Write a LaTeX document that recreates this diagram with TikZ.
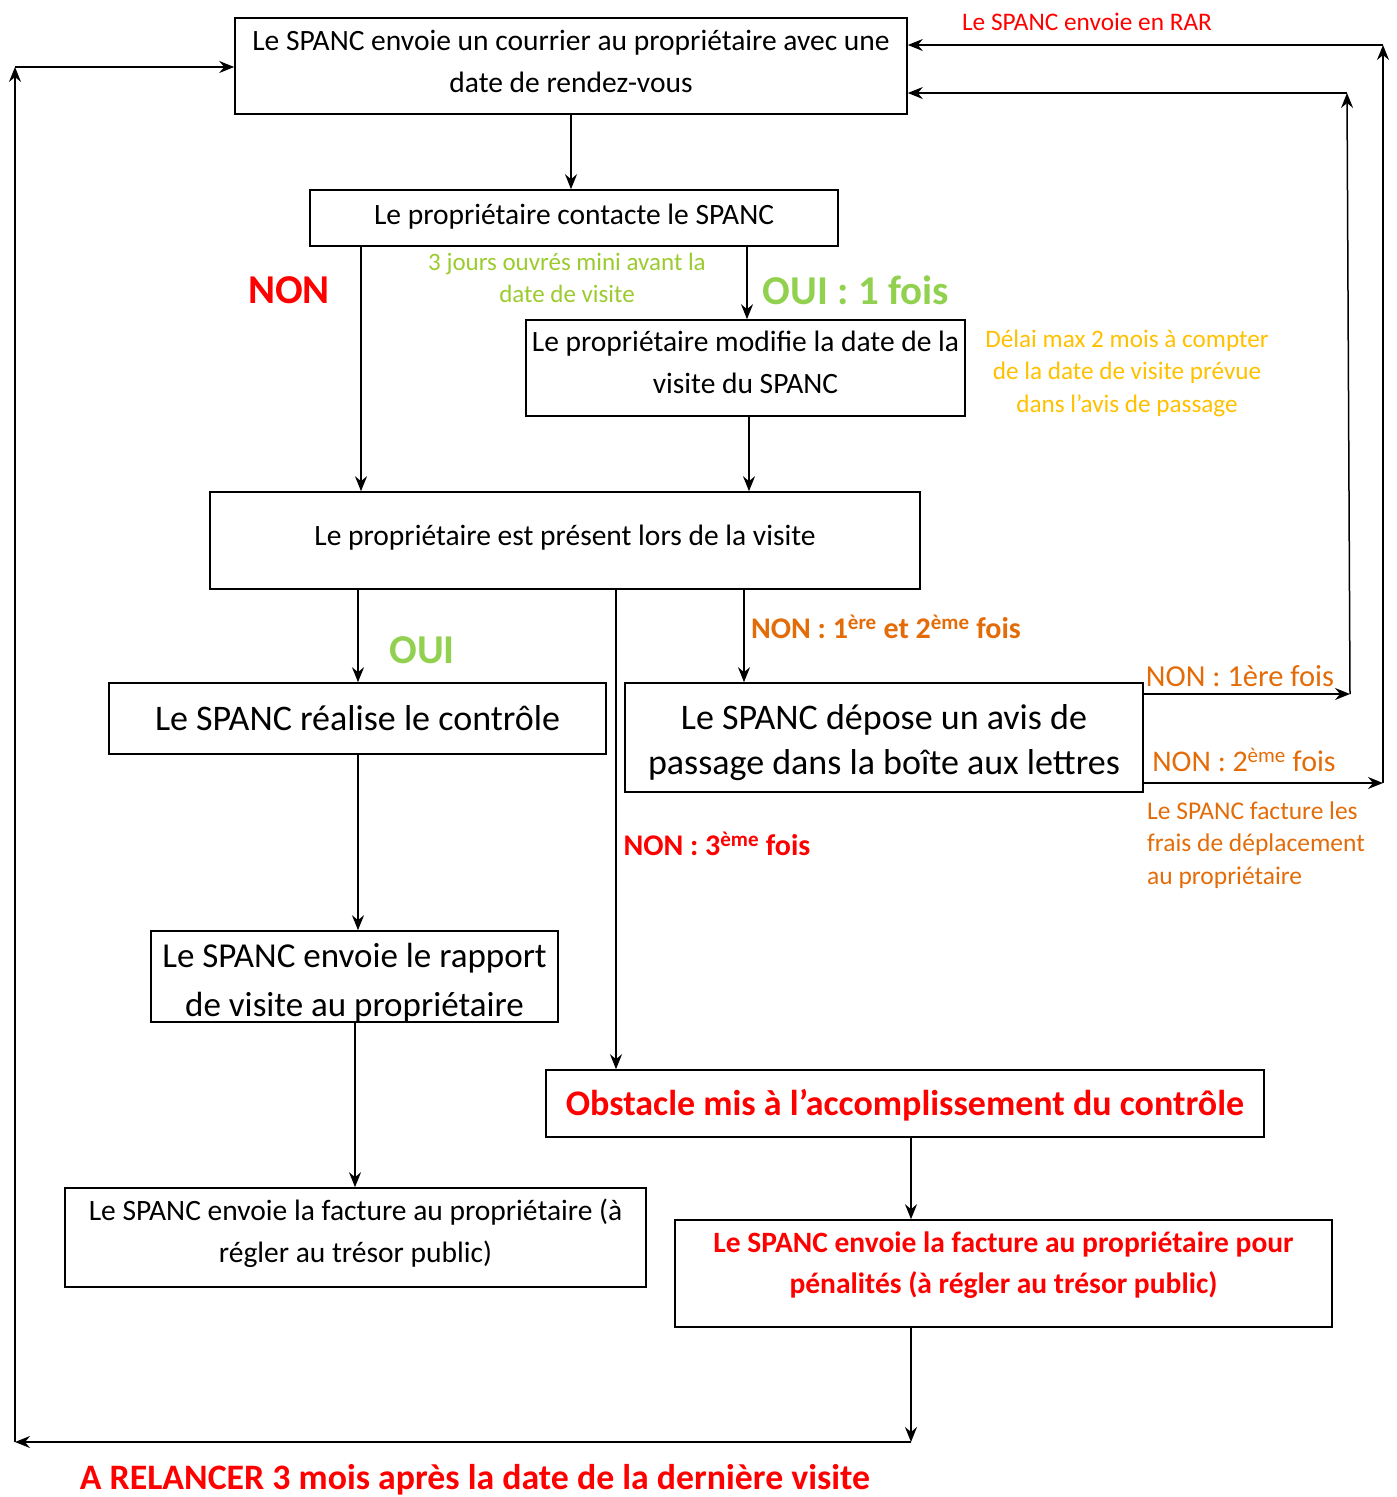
\documentclass[tikz,border=0pt]{standalone}
\usepackage{fontspec}
\setmainfont{Carlito}
\usetikzlibrary{arrows.meta}
\definecolor{cred}{HTML}{FF0000}
\definecolor{cgreen}{HTML}{92D050}
\definecolor{cgreenb}{HTML}{9BCB2F}
\definecolor{corange}{HTML}{E36C09}
\definecolor{cgold}{HTML}{FFC000}
% [#1]: trim of the text box, #2: downward shift of the text inside its box, #3: lines
\newcommand\boxtxt[3][0pt]{\raisebox{0pt}[\dimexpr\height+#2-#1\relax][\dimexpr\depth-#2-#1\relax]{\begin{tabular}{@{}c@{}}#3\end{tabular}}}
\begin{document}
\begin{tikzpicture}[x=1pt,y=-1pt,
  box/.style={draw, line width=1.6pt, align=center, inner sep=0pt},
  fsn/.style={font=\fontsize{29.5}{42}\selectfont},
  fsb/.style={font=\fontsize{36}{45}\selectfont},
  arr/.style={-{Stealth[length=15pt,width=12pt,inset=5pt]}, line width=1.5pt},
  lbl/.style={inner sep=0pt, align=center}]
\useasboundingbox (0,0) rectangle (1397,1497);
% boxes
\node[box,fsn,minimum width=672pt,minimum height=96pt] (n1) at (571,66) {\boxtxt{-3pt}{Le SPANC envoie un courrier au propriétaire avec une\\date de rendez-vous}};
\node[box,fsn,minimum width=528pt,minimum height=56pt] (n2) at (574,218) {\boxtxt{-2pt}{Le propriétaire contacte le SPANC}};
\node[box,fsn,minimum width=439pt,minimum height=96pt] (n3) at (745.5,368) {\boxtxt{-4pt}{Le propriétaire modifie la date de la\\visite du SPANC}};
\node[box,fsn,minimum width=710pt,minimum height=97pt] (n4) at (565,540.5) {\boxtxt{-3pt}{Le propriétaire est présent lors de la visite}};
\node[box,fsb,minimum width=497pt,minimum height=71pt] (n5) at (357.5,718.5) {\boxtxt{3pt}{Le SPANC réalise le contrôle}};
\node[box,fsb,minimum width=518pt,minimum height=109pt] (n6) at (884,737.5) {\boxtxt{5pt}{Le SPANC dépose un avis de\\passage dans la boîte aux lettres}};
\node[box,font=\fontsize{35}{49}\selectfont,minimum width=407pt,minimum height=91pt] (n7) at (354.5,976.5) {\boxtxt[6pt]{6pt}{Le SPANC envoie le rapport\\de visite au propriétaire}};
\node[box,font=\fontsize{36}{46}\selectfont\bfseries,text=cred,minimum width=718pt,minimum height=67pt] (n8) at (905,1103.5) {\boxtxt{3pt}{Obstacle mis à l’accomplissement du contrôle}};
\node[box,fsn,minimum width=581pt,minimum height=99pt] (n9) at (355.5,1237.5) {\boxtxt{-4pt}{Le SPANC envoie la facture au propriétaire (à\\régler au trésor public)}};
\node[box,font=\fontsize{29.5}{41}\selectfont\bfseries,text=cred,minimum width=657pt,minimum height=107pt] (n10) at (1003.5,1273.5) {\boxtxt{-9pt}{Le SPANC envoie la facture au propriétaire pour\\pénalités (à régler au trésor public)}};
% helper coordinates
\coordinate (c1) at (361,0);
\coordinate (c2) at (747,0);
\coordinate (c2b) at (749,0);
\coordinate (c3) at (358,0);
\coordinate (c4) at (616,0);
\coordinate (c5) at (744,0);
\coordinate (c6) at (355,0);
\coordinate (c7) at (911,0);
% connectors
\draw[arr] (n1.south) -- (n1.south |- n2.north);
\draw[arr] (n2.south -| c1) -- (n4.north -| c1);
\draw[arr] (n2.south -| c2) -- (n3.north -| c2);
\draw[arr] (n3.south -| c2b) -- (n4.north -| c2b);
\draw[arr] (n4.south -| c3) -- (n5.north -| c3);
\draw[arr] (n4.south -| c4) -- (n8.north -| c4);
\draw[arr] (n4.south -| c5) -- (n6.north -| c5);
\draw[arr] (n5.south -| c3) -- (n7.north -| c3);
\draw[arr] (n7.south -| c6) -- (n9.north -| c6);
\draw[arr] (n8.south -| c7) -- (n10.north -| c7);
% bottom loop
\coordinate (r1) at (911,1442);
\coordinate (r2) at (15,1442);
\coordinate (r3) at (15,67);
\draw[arr] (n10.south -| r1) -- (r1);
\draw[arr] (r1) -- (r2);
\draw[arr] (r2) -- (r3);
\draw[arr] (r3) -- (n1.west |- r3);
% right loops
\coordinate (s1) at (1350,694);
\coordinate (s2) at (1347,93);
\draw[arr] (n6.east |- s1) -- (s1);
\draw[arr] (s1) -- (s2);
\draw[arr] (s2) -- (n1.east |- s2);
\coordinate (t1) at (1383,783);
\coordinate (t2) at (1383,45);
\draw[arr] (n6.east |- t1) -- (t1);
\draw[arr] (t1) -- (t2);
\draw[arr] (t2) -- (n1.east |- t2);
% labels
\node[lbl,text=cred,font=\fontsize{41}{44}\selectfont\bfseries] (l1) at (289,290) {NON};
\node[lbl,text=cgreen,font=\fontsize{41}{44}\selectfont\bfseries] (l2) at (856,290) {OUI : 1 fois};
\node[lbl,text=cgreenb,font=\fontsize{25}{32}\selectfont] (l3) at (567,278) {3 jours ouvrés mini avant la\\date de visite};
\node[lbl,text=cgold,font=\fontsize{25.2}{32.5}\selectfont] (l4) at (1127,373) {Délai max 2 mois à compter\\de la date de visite prévue\\dans l’avis de passage};
\node[lbl,text=cgreen,font=\fontsize{41}{44}\selectfont\bfseries] (l5) at (422,650) {OUI};
\node[lbl,text=corange,font=\fontsize{30}{33}\selectfont\bfseries] (l6) at (886,627) {NON : 1\textsuperscript{ère} et 2\textsuperscript{ème} fois};
\node[lbl,text=corange,font=\fontsize{30.5}{33}\selectfont] (l7) at (1240,676) {NON : 1ère fois};
\node[lbl,text=corange,font=\fontsize{30}{33}\selectfont] (l8) at (1244,760) {NON : 2\textsuperscript{ème} fois};
\node[lbl,text=corange,font=\fontsize{25.5}{32.5}\selectfont,align=left,anchor=west] (l9) at (1147,845) {Le SPANC facture les\\frais de déplacement\\au propriétaire};
\node[lbl,text=cred,font=\fontsize{25.3}{28}\selectfont] (l10) at (1087,22) {Le SPANC envoie en RAR};
\node[lbl,text=cred,font=\fontsize{30}{33}\selectfont\bfseries] (l11) at (717,844) {NON : 3\textsuperscript{ème} fois};
\node[lbl,text=cred,font=\fontsize{35.8}{40}\selectfont\bfseries] (l12) at (475,1480) {A RELANCER 3 mois après la date de la dernière visite};
\end{tikzpicture}
\end{document}
